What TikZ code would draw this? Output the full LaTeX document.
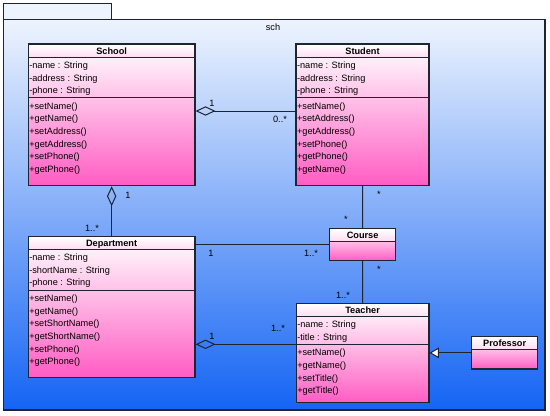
\documentclass[tikz,border=0pt]{standalone}
\usepackage{fontspec}
\setmainfont{Liberation Sans}
\usetikzlibrary{arrows.meta, fit}
\definecolor{bgtop}{HTML}{EEF4FE}
\definecolor{bgmid}{HTML}{88B6F6}
\definecolor{bgbot}{HTML}{1464F4}
\definecolor{headpink}{HTML}{FFDDF1}
\definecolor{bodybot}{HTML}{FF5CC3}
\definecolor{edge}{HTML}{1E2430}

\begin{document}
\begin{tikzpicture}[x=0.75pt, y=-0.75pt, font=\fontsize{6.9}{8}\selectfont,
  line/.style={draw=edge, line width=0.75pt},
  head/.style={top color=white, bottom color=headpink},
  body/.style={top color=white, bottom color=bodybot},
  classbox/.style={draw=edge, line width=0.8pt, inner sep=0pt},
  title/.style={font=\fontsize{6.9}{8}\selectfont\bfseries, anchor=base},
  member/.style={anchor=base west, inner sep=0pt},
  mult/.style={inner sep=0pt},
  agg/.style={{Diamond[open, length=15pt, width=7pt]}-},
  inherit/.style={-{Triangle[open, fill=white, length=7pt, width=8pt]}}]
  \useasboundingbox (0,0) rectangle (550,415);
  \fill[white] (0,0) rectangle (550,415);

  % package frame
  \fill[bgtop] (3.5,3) rectangle (111,19.5);
  \draw[edge, line width=0.75pt] (3.5,19.5) -- (3.5,3) -- (111,3) -- (111,19.5);
  \shade[top color=bgtop, middle color=bgmid, bottom color=bgbot] (3.5,19.5) rectangle (545,410);
  \draw[edge, line width=0.9pt] (3.5,19.5) rectangle (545,410);
  \node (pkg) at (273,27) {sch};

  % School
  \shade[body] (28.3,44) rectangle (195,185.7);
  \shade[head] (28.3,44) rectangle (195,57.3);
  \draw[line] (28.3,57.3) -- (195,57.3) (28.3,97.3) -- (195,97.3);
  \node[classbox, fit={(28.3,44) (195,185.7)}] (school) {};
  \node[title] (school-name) at (111.6,54.3) {School};
  \foreach \t [count=\i] in {-name : String, -address : String, -phone : String}
    \node[member] (school-a\i) at (29,55.6+12.7*\i) {\t};
  \foreach \t [count=\i] in {+setName(), +getName(), +setAddress(), +getAddress(), +setPhone(), +getPhone()}
    \node[member] (school-m\i) at (29,96.3+12.7*\i) {\t};

  % Student
  \shade[body] (296,44) rectangle (429,185.7);
  \shade[head] (296,44) rectangle (429,57.3);
  \draw[line] (296,57.3) -- (429,57.3) (296,97.3) -- (429,97.3);
  \node[classbox, fit={(296,44) (429,185.7)}] (student) {};
  \node[title] (student-name) at (362.5,54.3) {Student};
  \foreach \t [count=\i] in {-name : String, -address : String, -phone : String}
    \node[member] (student-a\i) at (296.8,55.6+12.7*\i) {\t};
  \foreach \t [count=\i] in {+setName(), +setAddress(), +getAddress(), +setPhone(), +getPhone(), +getName()}
    \node[member] (student-m\i) at (296.8,96.3+12.7*\i) {\t};

  % Department
  \shade[body] (28.3,236.7) rectangle (195,377.3);
  \shade[head] (28.3,236.7) rectangle (195,249.3);
  \draw[line] (28.3,249.3) -- (195,249.3) (28.3,290) -- (195,290);
  \node[classbox, fit={(28.3,236.7) (195,377.3)}] (dept) {};
  \node[title] (dept-name) at (111.6,246.3) {Department};
  \foreach \t [count=\i] in {-name : String, -shortName : String, -phone : String}
    \node[member] (dept-a\i) at (29,247.8+12.7*\i) {\t};
  \foreach \t [count=\i] in {+setName(), +getName(), +setShortName(), +getShortName(), +setPhone(), +getPhone()}
    \node[member] (dept-m\i) at (29,288.7+12.7*\i) {\t};

  % Course
  \shade[body] (329.5,228.7) rectangle (395.7,260.7);
  \shade[head] (329.5,228.7) rectangle (395.7,241);
  \draw[line] (329.5,241) -- (395.7,241);
  \node[classbox, fit={(329.5,228.7) (395.7,260.7)}] (course) {};
  \node[title] (course-name) at (362.6,238) {Course};

  % Teacher
  \shade[body] (296.3,303.3) rectangle (429,402.7);
  \shade[head] (296.3,303.3) rectangle (429,316.7);
  \draw[line] (296.3,316.7) -- (429,316.7) (296.3,344.3) -- (429,344.3);
  \node[classbox, fit={(296.3,303.3) (429,402.7)}] (teacher) {};
  \node[title] (teacher-name) at (362.6,313.7) {Teacher};
  \foreach \t [count=\i] in {-name : String, -title : String}
    \node[member] (teacher-a\i) at (297,314.8+12.7*\i) {\t};
  \foreach \t [count=\i] in {+setName(), +getName(), +setTitle(), +getTitle()}
    \node[member] (teacher-m\i) at (297,343+12.7*\i) {\t};

  % Professor
  \shade[body] (471.7,336.7) rectangle (537.7,369);
  \shade[head] (471.7,336.7) rectangle (537.7,349);
  \draw[line] (471.7,349) -- (537.7,349);
  \node[classbox, fit={(471.7,336.7) (537.7,369)}] (prof) {};
  \node[title] (prof-name) at (504.7,346) {Professor};

  % associations
  \draw[line, agg] (school.east |- 0,111) -- (student.west |- 0,111);
  \draw[line, agg] (school.south) -- (dept.north);
  \draw[line] (dept.east |- course.west) -- (course.west);
  \draw[line, agg] (dept.east |- 0,344.3) -- (teacher.west |- 0,344.3);
  \draw[line] (student.south) -- (course.north);
  \draw[line] (course.south) -- (teacher.north);
  \draw[line, inherit] (prof.west) -- (teacher.east |- prof.west);

  \node[mult] (m1) at (212,103) {1};
  \node[mult] (m2) at (280,119) {0..*};
  \node[mult] (m3) at (128,195) {1};
  \node[mult] (m4) at (92,228) {1..*};
  \node[mult] (m5) at (211,253) {1};
  \node[mult] (m6) at (311,253) {1..*};
  \node[mult] (m7) at (379,194) {*};
  \node[mult] (m8) at (346,219) {*};
  \node[mult] (m9) at (379,269) {*};
  \node[mult] (m10) at (343,295) {1..*};
  \node[mult] (m11) at (212,336) {1};
  \node[mult] (m12) at (278,328) {1..*};
\end{tikzpicture}
\end{document}
